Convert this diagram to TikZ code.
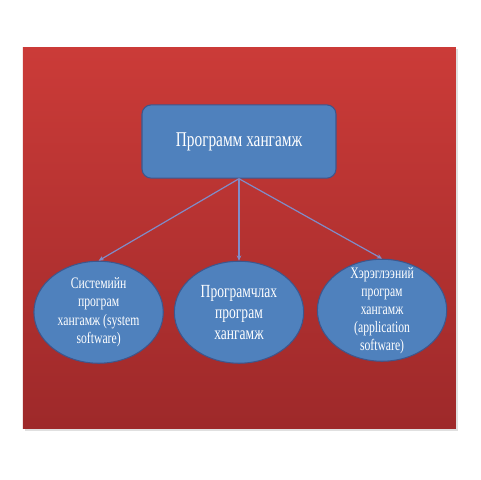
\documentclass[tikz,border=0pt]{standalone}
\usepackage{fontspec}
\newfontfamily\condserif[FakeStretch=0.73]{Liberation Serif}
\usetikzlibrary{positioning, arrows.meta, shapes.geometric}

\definecolor{redtop}{RGB}{203,59,56}
\definecolor{redbot}{RGB}{158,41,42}
\definecolor{boxfill}{RGB}{79,129,189}
\definecolor{boxline}{RGB}{62,86,140}
\definecolor{linkcol}{RGB}{128,140,200}

\begin{document}
\begin{tikzpicture}[x=0.75pt, y=-0.75pt,
    topbox/.style={draw=boxline, fill=boxfill, thick, rectangle, rounded corners=7pt, minimum width=145.5pt, minimum height=55pt, text=white, font=\condserif\fontsize{15.75}{18}\selectfont},
    oval/.style={draw=boxline, fill=boxfill, thick, ellipse, minimum width=97pt, minimum height=76.5pt, inner sep=0pt},
    ovaltext/.style={text=white, align=center, font=\condserif\fontsize{12}{13.9}\selectfont},
    link/.style={-{Stealth[length=4pt, width=3.5pt]}, draw=linkcol, line width=0.9pt}]
    \useasboundingbox (0, 0) rectangle (480, 480);
    \fill [white] (0, 0) rectangle (480, 480);

    % red panel with a faint shadow
    \fill [black!12] (25, 49) rectangle (458, 431);
    \shade [top color=redtop, bottom color=redbot] (23, 47) rectangle (456, 428);

    \node (prog) [topbox] at (239, 141.5) {Программ хангамж};
    \node (prgm) [oval, below=61.5pt of prog,
        label={[ovaltext, font=\condserif\fontsize{13.9}{15.75}\selectfont]center:Програмчлах\\програм\\хангамж}] {};
    \node (sys) [oval, left=7.5pt of prgm,
        label={[ovaltext]center:Системийн\\програм\\хангамж (system\\software)}] {};
    \node (app) [oval, right=9.5pt of prgm, yshift=1.5pt,
        label={[ovaltext, font=\condserif\fontsize{12}{13.5}\selectfont]center:Хэрэглээний\\програм\\хангамж\\(application\\software)}] {};

    \draw [link] (prog.south) -- (sys.north);
    \draw [link] (prog.south) -- (prgm.north);
    \draw [link] (prog.south) -- (app.north);
\end{tikzpicture}
\end{document}
